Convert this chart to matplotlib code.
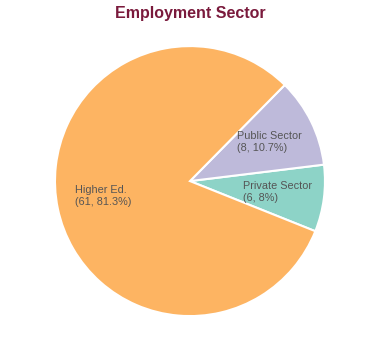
import matplotlib.pyplot as plt

plt.rcParams['font.family'] = ['Liberation Sans', 'DejaVu Sans']

# Datos
sectors = ['Private Sector', 'Public Sector', 'Higher Ed.']
counts = [6, 8, 61]
percents = ['8%', '10.7%', '81.3%']
colors = ['#8DD3C7', '#BEBADA', '#FDB462']

# posiciones de etiquetas (coordenadas del pie, radio 1)
label_pos = [(0.39, -0.08), (0.35, 0.29), (-0.85, -0.11)]

fig = plt.figure(figsize=(3.8, 3.6), dpi=100)
ax = fig.add_axes([0.1447, 0.122, 0.7105, 0.75])

start = -21.8
ax.pie(counts, colors=colors, startangle=start, counterclock=True,
       radius=1.0, wedgeprops={'edgecolor': 'white', 'linewidth': 1.5})
ax.set_xlim(-1, 1)
ax.set_ylim(-1, 1)
ax.set_aspect('equal')
ax.axis('off')

for name, n, p, (x, y) in zip(sectors, counts, percents, label_pos):
    ax.text(x, y, f'{name}\n({n}, {p})', ha='left', va='center',
            fontsize=7.8, color='#555555', linespacing=1.3)

fig.text(0.5, 0.962, 'Employment Sector', ha='center', va='center',
         fontsize=11.5, fontweight='bold', color='#7A1A3C')

plt.savefig('out.png', dpi=100)
